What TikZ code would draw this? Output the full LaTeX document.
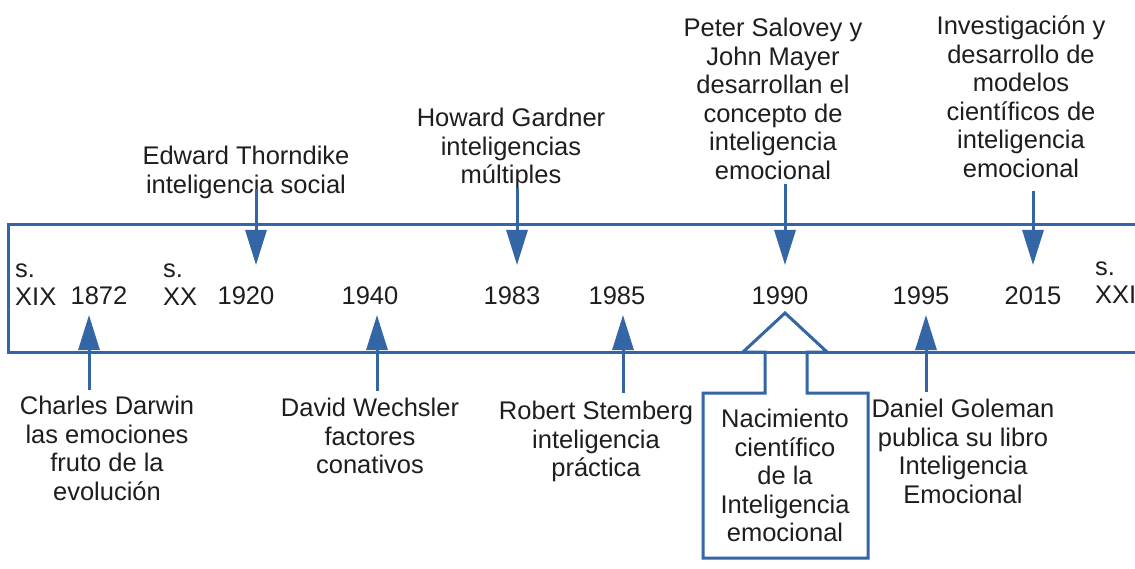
\documentclass[tikz,border=0pt]{standalone}
\usepackage{fontspec}
\setmainfont{Liberation Sans}
\usetikzlibrary{arrows.meta}
\definecolor{lo}{HTML}{3465A4}
\definecolor{tx}{HTML}{1E1E1E}
\begin{document}
\begin{tikzpicture}[x=1pt,y=-1pt,
  txt/.style={font=\fontsize{25.5}{28.5}\selectfont, align=center, inner sep=0pt, text=tx},
  yr/.style={font=\fontsize{25.5}{28.5}\selectfont, inner sep=0pt, text=tx, anchor=base},
  band/.style={draw=lo, line width=3pt},
  arr/.style={draw=lo, line width=3pt, -{Triangle[width=21pt,length=35pt]}}]
\fill[white] (0,0) rectangle (1135,569);
\useasboundingbox (0,0) rectangle (1135,569);

% callout of 1990
\draw[band, fill=white, line join=miter] (703,393) -- (765,393) -- (765,352) -- (743,352) -- (785,313) -- (827,352) -- (807,352) -- (807,393) -- (868,393) -- (868,558) -- (703,558) -- cycle;
% timeline band
\draw[band] (1140,225) -- (8,225) -- (8,352) -- (1140,352);

% arrow tips
\coordinate (t1920) at (256,265);
\coordinate (t1983) at (517,265);
\coordinate (t1990) at (785,265);
\coordinate (t2015) at (1033,265);
\coordinate (t1872) at (89,315);
\coordinate (t1940) at (377,315);
\coordinate (t1985) at (623,315);
\coordinate (t1995) at (926,315);

% upper labels
\node[txt, anchor=north] (lab1920) at (246,146) {Edward Thorndike\\inteligencia social};
\node[txt, anchor=north] (lab1983) at (511,108) {Howard Gardner\\inteligencias\\múltiples};
\node[txt, anchor=north] (lab1990) at (773,18) {Peter Salovey y\\John Mayer\\desarrollan el\\concepto de\\inteligencia\\emocional};
\node[txt, anchor=north] (lab2015) at (1021,16) {Investigación y\\desarrollo de\\modelos\\científicos de\\inteligencia\\emocional};

% lower labels
\node[txt, anchor=north] (lab1872) at (107,396) {Charles Darwin\\las emociones\\fruto de la\\evolución};
\node[txt, anchor=north] (lab1940) at (370,398) {David Wechsler\\factores\\conativos};
\node[txt, anchor=north] (lab1985) at (596,401) {Robert Stemberg\\inteligencia\\práctica};
\node[txt, anchor=north] (lab1995) at (963,399) {Daniel Goleman\\publica su libro\\Inteligencia\\Emocional};
\node[txt, anchor=north] (nac) at (785,409) {Nacimiento\\científico\\de la\\Inteligencia\\emocional};

% years
\node[txt, align=left, anchor=south west] (sxix) at (15,306) {s.\\XIX};
\node[txt, align=left, anchor=south west] (sxx) at (163,306) {s.\\XX};
\node[txt, align=left, anchor=south west] (sxxi) at (1095,304) {s.\\XXI};
\node[yr] (y1872) at (99,305) {1872};
\node[yr] (y1920) at (246,305) {1920};
\node[yr] (y1940) at (370,305) {1940};
\node[yr] (y1983) at (512,305) {1983};
\node[yr] (y1985) at (617,305) {1985};
\node[yr] (y1990) at (780,305) {1990};
\node[yr] (y1995) at (921,305) {1995};
\node[yr] (y2015) at (1033,305) {2015};

% arrows
\draw[arr, shorten <=-10pt] (t1920 |- lab1920.south) -- (t1920);
\draw[arr, shorten <=-1pt] (t1983 |- lab1983.south) -- (t1983);
\draw[arr, shorten <=4pt] (t1990 |- lab1990.south) -- (t1990);
\draw[arr, shorten <=13pt] (t2015 |- lab2015.south) -- (t2015);
\draw[arr, shorten <=6pt] (t1872 |- lab1872.north) -- (t1872);
\draw[arr, shorten <=7pt] (t1940 |- lab1940.north) -- (t1940);
\draw[arr, shorten <=8pt] (t1985 |- lab1985.north) -- (t1985);
\draw[arr, shorten <=7pt] (t1995 |- lab1995.north) -- (t1995);
\end{tikzpicture}
\end{document}
